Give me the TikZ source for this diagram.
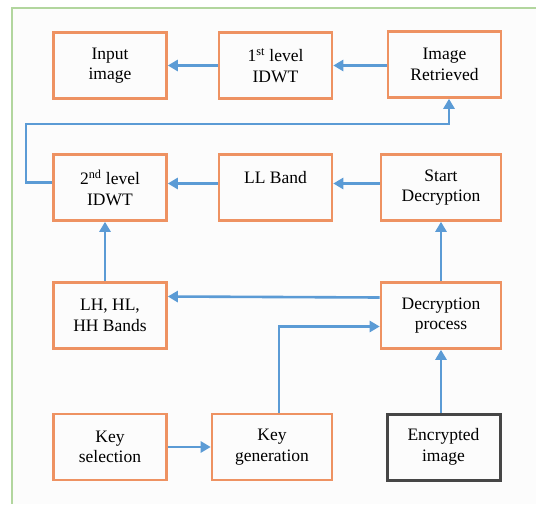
\documentclass[tikz,border=0pt]{standalone}
\usepackage{fontspec}
\setmainfont{Liberation Serif}
\usepackage{xcolor}
\usetikzlibrary{arrows.meta, positioning, calc}

\definecolor{boxorange}{RGB}{238,146,98}
\definecolor{flowblue}{RGB}{91,155,213}
\definecolor{framegreen}{RGB}{178,214,158}
\definecolor{darkbox}{RGB}{70,70,70}

\tikzset{
  blk/.style={draw=boxorange, line width=2.6pt, align=center, inner sep=0pt,
    minimum width=113pt, minimum height=66pt,
    font=\fontsize{17.5}{20.5}\selectfont},
  arr/.style={draw=flowblue, line width=2.6pt,
    -{Triangle[length=10pt,width=11pt]}}
}

\begin{document}
\begin{tikzpicture}[x=1pt,y=-1pt]
          \useasboundingbox (0,0) rectangle (536,504);
          \fill[white!99!black] (12,8) rectangle (536,504);
          \draw[framegreen, line width=1.6pt] (536,8) -- (12,8) -- (12,504);

          % top row
          \node[blk] (input) at (110,65.5) {Input\\image};
          \node[blk] (idwt1) at (275.5,65.5) {1\textsuperscript{st} level\\IDWT};
          \node[blk] (retr) at (444.5,64.5) {Image\\Retrieved};

          % second row
          \node[blk] (idwt2) at (110,187.5) {2\textsuperscript{nd} level\\IDWT};
          \node[blk] (llband) at (275.5,187.5) {LL Band\\\phantom{I}};
          \node[blk, minimum width=120pt] (start) at (441,187.5) {Start\\Decryption};

          % third row
          \node[blk] (bands) at (110,315.5) {LH, HL,\\HH Bands};
          \node[blk, minimum width=120pt] (dec) at (441,315.5) {Decryption\\process};

          % bottom row
          \node[blk] (keysel) at (110,447) {Key\\selection};
          \node[blk, minimum width=120pt] (keygen) at (272,447) {Key\\generation};
          \node[blk, draw=darkbox, line width=3pt] (enc) at (443.5,447) {Encrypted\\image};

          \coordinate (loop) at (26,124);

          \draw[arr] (idwt1) -- (input);
          \draw[arr] (retr.west |- idwt1) -- (idwt1);
          \draw[arr] ([yshift=5pt]idwt2.west) -| (loop) -| ([xshift=4.5pt]retr.south);
          \draw[arr] ([yshift=4pt]llband.west) -- ([yshift=4pt]idwt2.east);
          \draw[arr] ([yshift=4pt]start.west) -- ([yshift=4pt]llband.east);
          \draw[arr] ([xshift=-5pt]bands.north) -- ([xshift=-5pt]idwt2.south);
          \draw[arr] (dec.north) -- (start.south);
          \draw[arr] ([yshift=18pt]dec.west) -- ([yshift=19pt]bands.east);
          \draw[arr] ([xshift=7pt]keygen.north) |- ([yshift=-11pt]dec.west);
          \draw[arr] (enc.north -| dec) -- (dec.south);
          \draw[arr] (keysel) -- (keygen);
        \end{tikzpicture}
\end{document}
